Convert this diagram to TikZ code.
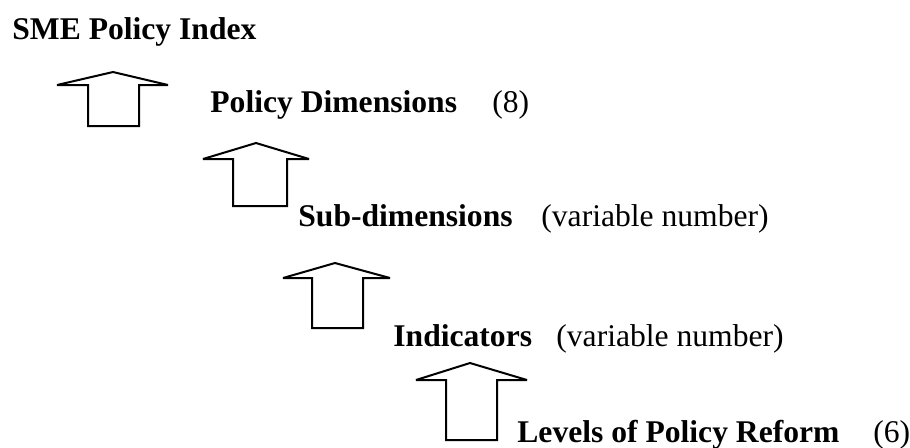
\documentclass[tikz,border=0pt]{standalone}
\usepackage{fontspec}
\setmainfont{Liberation Serif}
\tikzset{
  level/.style={anchor=base west, inner sep=0pt, font=\fontsize{15.8}{19}\selectfont\bfseries},
  count/.style={anchor=base west, inner sep=0pt, font=\fontsize{15.8}{19}\selectfont},
  uparrow/.style={draw, line width=1pt, line join=miter, miter limit=2}
}
\begin{document}
\begin{tikzpicture}[x=0.5pt, y=-0.5pt]
    \useasboundingbox (0, 0) rectangle (910, 447);
    % levels, top to bottom
    \node[level] (index) at (12, 39) {SME Policy Index};
    \node[level] (dims) at (210, 112) {Policy Dimensions};
    \node[count] (dimsn) at (492, 112) {(8)};
    \node[level] (subdims) at (298, 226) {Sub-dimensions};
    \node[count] (subdimsn) at (541, 226) {(variable number)};
    \node[level] (indic) at (393, 346) {Indicators};
    \node[count] (indicn) at (556, 346) {(variable number)};
    \node[level] (reform) at (517, 442) {Levels of Policy Reform};
    \node[count] (reformn) at (873, 442) {(6)};
    % block arrows
    \draw[uparrow] (88, 126) -- (88, 85) -- (57, 85) -- (113, 72) -- (168, 85) -- (139, 85) -- (139, 126) -- cycle;
    \draw[uparrow] (233, 206) -- (233, 159) -- (203, 159) -- (256, 143) -- (309, 159) -- (287, 159) -- (287, 206) -- cycle;
    \draw[uparrow] (312, 328) -- (312, 278) -- (283, 278) -- (335, 263) -- (390, 278) -- (363, 278) -- (363, 328) -- cycle;
    \draw[uparrow] (446, 440) -- (446, 380) -- (416, 380) -- (470, 363) -- (527, 380) -- (497, 380) -- (497, 440) -- cycle;
\end{tikzpicture}
\end{document}
